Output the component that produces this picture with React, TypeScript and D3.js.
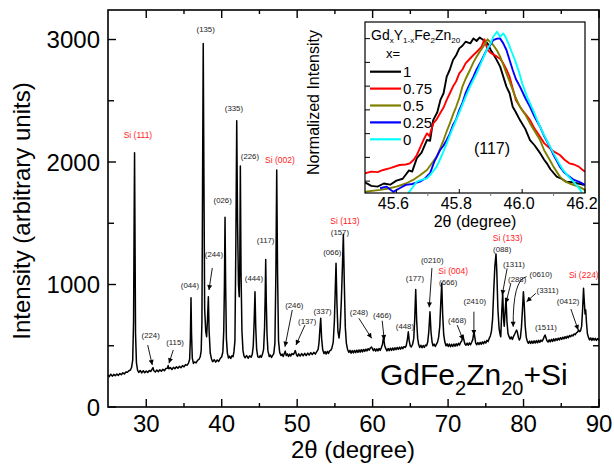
import React from 'react';
import * as d3 from 'd3';

const FONT = '"Liberation Sans", Arial, Helvetica, sans-serif';

// ---------- main XRD pattern: [2theta, intensity] ----------
const trace: [number, number][] = [
  [24.93, 262], [25.1, 248], [25.3, 268], [25.5, 252], [25.7, 266], [25.9, 255], [26.1, 270], [26.3, 258], [26.5, 274], [26.7, 263], [26.9, 279], [27.1, 270], [27.3, 286], [27.5, 284], [27.7, 296], [27.9, 302], [28.05, 322], [28.2, 380], [28.32, 700], [28.4, 1600], [28.45, 2076], [28.5, 1500], [28.58, 600], [28.7, 360], [28.85, 300], [29.0, 282], [29.2, 298], [29.4, 278], [29.6, 296], [29.8, 280], [30.0, 294], [30.2, 282], [30.4, 298], [30.6, 290], [30.8, 312], [30.9, 322], [31.0, 296], [31.2, 286], [31.4, 302], [31.6, 288], [31.8, 304], [32.0, 292], [32.2, 308], [32.4, 296], [32.6, 314], [32.8, 316], [32.9, 338], [33.0, 312], [33.2, 322], [33.4, 306], [33.6, 324], [33.8, 312], [34.0, 328], [34.2, 316], [34.4, 332], [34.6, 320], [34.8, 338], [35.0, 328], [35.2, 346], [35.4, 340], [35.6, 358], [35.75, 390], [35.85, 560], [35.93, 892], [36.0, 600], [36.1, 400], [36.25, 356], [36.4, 368], [36.6, 360], [36.8, 380], [37.0, 390], [37.15, 410], [37.28, 460], [37.38, 700], [37.46, 1800], [37.55, 2968], [37.64, 1900], [37.74, 800], [37.88, 620], [38.0, 574], [38.12, 720], [38.23, 900], [38.33, 620], [38.48, 440], [38.65, 392], [38.8, 370], [39.0, 386], [39.2, 366], [39.4, 384], [39.6, 372], [39.8, 396], [40.0, 410], [40.15, 450], [40.27, 620], [40.36, 1000], [40.44, 1549], [40.52, 1000], [40.62, 560], [40.75, 440], [40.9, 400], [41.05, 414], [41.2, 396], [41.35, 418], [41.5, 410], [41.62, 450], [41.75, 540], [41.87, 1300], [41.99, 2337], [42.1, 1500], [42.22, 1000], [42.32, 900], [42.4, 1200], [42.47, 1967], [42.56, 1100], [42.68, 620], [42.82, 460], [42.95, 418], [43.1, 402], [43.3, 420], [43.5, 398], [43.7, 418], [43.9, 406], [44.05, 430], [44.18, 500], [44.3, 700], [44.41, 941], [44.51, 650], [44.63, 470], [44.78, 412], [44.95, 404], [45.1, 420], [45.25, 406], [45.4, 430], [45.55, 470], [45.68, 650], [45.76, 900], [45.83, 1205], [45.91, 850], [46.0, 600], [46.12, 460], [46.3, 412], [46.45, 424], [46.6, 404], [46.75, 422], [46.9, 436], [47.05, 520], [47.18, 1100], [47.29, 1935], [47.4, 1100], [47.53, 540], [47.68, 446], [47.85, 420], [48.0, 432], [48.15, 412], [48.3, 436], [48.42, 456], [48.55, 420], [48.7, 434], [48.85, 412], [49.0, 432], [49.15, 416], [49.3, 436], [49.5, 428], [49.65, 446], [49.75, 460], [49.9, 428], [50.05, 414], [50.2, 434], [50.4, 416], [50.6, 436], [50.8, 418], [51.0, 438], [51.2, 420], [51.4, 440], [51.6, 424], [51.8, 444], [52.0, 428], [52.2, 446], [52.4, 432], [52.6, 452], [52.78, 470], [52.9, 530], [53.02, 640], [53.12, 724], [53.24, 560], [53.38, 470], [53.55, 436], [53.7, 452], [53.85, 432], [54.0, 454], [54.15, 438], [54.3, 458], [54.45, 462], [54.6, 480], [54.78, 530], [54.93, 700], [55.05, 960], [55.15, 1173], [55.27, 850], [55.4, 620], [55.55, 563], [55.7, 650], [55.85, 860], [56.0, 1150], [56.12, 1410], [56.25, 1000], [56.38, 650], [56.52, 520], [56.68, 470], [56.85, 446], [57.0, 462], [57.15, 440], [57.3, 460], [57.45, 442], [57.6, 462], [57.75, 444], [57.9, 464], [58.05, 446], [58.2, 466], [58.35, 448], [58.5, 468], [58.65, 450], [58.8, 470], [58.95, 454], [59.1, 472], [59.25, 458], [59.4, 476], [59.55, 464], [59.7, 482], [59.85, 490], [59.95, 478], [60.1, 460], [60.25, 476], [60.4, 456], [60.55, 474], [60.7, 458], [60.85, 478], [61.0, 462], [61.15, 484], [61.3, 510], [61.45, 573], [61.6, 500], [61.75, 476], [61.9, 458], [62.05, 478], [62.2, 460], [62.35, 480], [62.5, 462], [62.65, 482], [62.8, 464], [62.95, 484], [63.1, 468], [63.25, 486], [63.4, 470], [63.55, 488], [63.7, 472], [63.85, 490], [64.0, 476], [64.15, 492], [64.3, 486], [64.45, 500], [64.6, 550], [64.73, 614], [64.85, 540], [64.98, 500], [65.12, 490], [65.3, 512], [65.45, 560], [65.58, 720], [65.71, 960], [65.84, 700], [65.97, 560], [66.1, 510], [66.25, 486], [66.4, 504], [66.55, 484], [66.7, 502], [66.85, 486], [67.0, 506], [67.15, 500], [67.3, 530], [67.45, 620], [67.6, 778], [67.74, 610], [67.88, 530], [68.0, 500], [68.15, 514], [68.3, 494], [68.45, 512], [68.6, 530], [68.75, 570], [68.9, 660], [69.04, 860], [69.16, 1010], [69.28, 760], [69.42, 590], [69.57, 530], [69.72, 500], [69.87, 516], [70.02, 494], [70.17, 514], [70.32, 492], [70.47, 512], [70.62, 494], [70.77, 514], [70.92, 496], [71.07, 516], [71.22, 500], [71.37, 520], [71.52, 506], [71.67, 528], [71.82, 540], [71.95, 586], [72.08, 552], [72.22, 516], [72.37, 504], [72.52, 522], [72.67, 504], [72.82, 524], [72.97, 508], [73.12, 528], [73.27, 550], [73.37, 590], [73.44, 612], [73.54, 570], [73.66, 522], [73.8, 508], [73.95, 526], [74.1, 510], [74.25, 528], [74.4, 512], [74.55, 532], [74.7, 516], [74.85, 536], [75.0, 522], [75.15, 544], [75.3, 534], [75.45, 560], [75.6, 580], [75.75, 620], [75.9, 720], [76.05, 950], [76.2, 1150], [76.35, 1249], [76.46, 1100], [76.6, 800], [76.76, 640], [76.9, 590], [76.98, 574], [77.1, 760], [77.24, 931], [77.35, 720], [77.44, 660], [77.57, 790], [77.68, 887], [77.8, 700], [77.94, 600], [78.08, 574], [78.22, 556], [78.37, 572], [78.52, 552], [78.67, 576], [78.82, 594], [78.97, 614], [79.08, 628], [79.2, 606], [79.32, 568], [79.45, 547], [79.58, 566], [79.72, 650], [79.86, 800], [79.98, 941], [80.08, 850], [80.22, 660], [80.36, 570], [80.5, 536], [80.65, 520], [80.8, 538], [80.95, 518], [81.1, 538], [81.25, 520], [81.4, 540], [81.55, 522], [81.7, 542], [81.85, 524], [82.0, 544], [82.15, 528], [82.3, 546], [82.45, 536], [82.6, 552], [82.72, 572], [82.85, 588], [82.97, 566], [83.1, 540], [83.25, 530], [83.4, 548], [83.55, 532], [83.7, 552], [83.85, 536], [84.0, 556], [84.15, 540], [84.3, 558], [84.45, 544], [84.6, 562], [84.75, 548], [84.9, 566], [85.05, 552], [85.2, 570], [85.35, 556], [85.5, 574], [85.65, 560], [85.8, 578], [85.95, 566], [86.1, 584], [86.25, 574], [86.4, 588], [86.55, 580], [86.7, 596], [86.85, 590], [87.0, 606], [87.15, 612], [87.3, 628], [87.42, 616], [87.55, 622], [87.7, 660], [87.83, 800], [87.95, 969], [88.05, 860], [88.15, 760], [88.24, 792], [88.34, 690], [88.46, 600], [88.6, 568], [88.75, 548], [88.9, 564], [89.05, 544], [89.2, 562], [89.35, 546], [89.5, 560], [89.65, 544], [89.8, 558], [89.95, 548], [90.0, 552],
];

const xTicksMajor = [30, 40, 50, 60, 70, 80, 90];
const xTicksMinor = [35, 45, 55, 65, 75, 85];
const yTicksMajor = [0, 1000, 2000, 3000];
const yTicksMinor = [500, 1500, 2500];

// peak labels: text, 2theta, intensity (label anchor)
const labelText = ['Si (111)', '(135)', '(335)', '(226)', 'Si (002)', '(026)', '(117)', '(244)', '(044)', '(444)', '(224)', '(115)', '(246)', '(137)', '(337)', '(066)', '(157)', 'Si (113)', '(248)', '(466)', '(448)', '(177)', '(0210)', 'Si (004)', '(666)', '(468)', '(2410)', 'Si (133)', '(088)', '(1311)', '(288)', '(0610)', '(3311)', '(1511)', '(0412)', 'Si (224)'];
const labelTheta = [28.9, 37.87, 41.62, 43.74, 47.72, 40.13, 45.82, 38.97, 35.79, 44.27, 30.59, 33.81, 49.61, 51.33, 53.37, 54.65, 55.67, 56.33, 58.18, 61.27, 64.28, 65.6, 67.9, 70.68, 70.01, 71.21, 73.55, 77.9, 77.17, 78.72, 79.16, 82.29, 83.18, 82.96, 85.91, 87.99];
const labelInt = [2196, 3061, 2416, 2024, 1992, 1665, 1339, 1224, 971, 1029, 563, 506, 808, 678, 759, 1241, 1404, 1494, 751, 727, 637, 1029, 1176, 1086, 996, 686, 841, 1355, 1265, 1143, 1020, 1061, 931, 629, 841, 1053];

// arrows: [from 2theta, from I, to 2theta, to I]
const arrows: [number, number, number, number][] = [
  [38.75, 1135, 38.31, 955],
  [30.19, 506, 30.8, 343],
  [33.58, 465, 33.01, 357],
  [49.35, 792, 48.38, 492],
  [51.03, 669, 49.84, 506],
  [58.18, 724, 59.87, 561],
  [61.27, 704, 61.54, 547],
  [67.86, 1135, 67.5, 814],
  [71.21, 669, 72.0, 547],
  [73.42, 778, 73.42, 588],
  [77.83, 1132, 77.17, 914],
  [78.32, 1010, 77.66, 847],
  [81.63, 928, 80.4, 860],
  [86.27, 800, 87.24, 629],
];
// curved arrow for (0610): from, control, to
const curvedArrow: [number, number][] = [[80.4, 1064], [78.55, 1040], [78.63, 655]];

// ---------- inset: (117) peak, normalized intensity ----------
const insetX1: [number, number][] = [
  [45.5, 0.345], [45.52, 0.33], [45.54, 0.327], [45.56, 0.34], [45.58, 0.335], [45.6, 0.352], [45.62, 0.36], [45.64, 0.395], [45.65, 0.39], [45.665, 0.447], [45.68, 0.47], [45.697, 0.523], [45.707, 0.52], [45.717, 0.607], [45.73, 0.64], [45.74, 0.692], [45.75, 0.72], [45.76, 0.79], [45.77, 0.82], [45.78, 0.86], [45.79, 0.88], [45.8, 0.909], [45.81, 0.92], [45.82, 0.937], [45.835, 0.93], [45.845, 0.951], [45.855, 0.94], [45.865, 0.955], [45.88, 0.941], [45.89, 0.93], [45.9, 0.902], [45.915, 0.87], [45.93, 0.832], [45.94, 0.79], [45.95, 0.748], [45.96, 0.72], [45.97, 0.663], [45.98, 0.64], [45.993, 0.607], [46.01, 0.57], [46.025, 0.523], [46.04, 0.5], [46.057, 0.468], [46.07, 0.44], [46.078, 0.426], [46.09, 0.4], [46.11, 0.369], [46.125, 0.36], [46.14, 0.348], [46.16, 0.345], [46.174, 0.341], [46.19, 0.336], [46.2, 0.334],
];
const insetX075: [number, number][] = [
  [45.5, 0.383], [45.52, 0.39], [45.54, 0.388], [45.558, 0.397], [45.58, 0.405], [45.61, 0.418], [45.63, 0.42], [45.643, 0.425], [45.655, 0.44], [45.665, 0.46], [45.675, 0.49], [45.686, 0.523], [45.697, 0.551], [45.705, 0.54], [45.717, 0.593], [45.728, 0.61], [45.739, 0.636], [45.75, 0.66], [45.76, 0.692], [45.77, 0.72], [45.78, 0.748], [45.79, 0.77], [45.8, 0.804], [45.81, 0.82], [45.82, 0.846], [45.83, 0.86], [45.845, 0.881], [45.86, 0.9], [45.871, 0.916], [45.88, 0.947], [45.89, 0.902], [45.9, 0.89], [45.92, 0.874], [45.93, 0.865], [45.94, 0.846], [45.95, 0.82], [45.96, 0.79], [45.97, 0.74], [45.98, 0.692], [45.99, 0.67], [46.0, 0.649], [46.012, 0.63], [46.025, 0.607], [46.04, 0.57], [46.057, 0.537], [46.07, 0.51], [46.088, 0.488], [46.1, 0.475], [46.12, 0.46], [46.135, 0.44], [46.15, 0.425], [46.165, 0.42], [46.18, 0.411], [46.19, 0.4], [46.2, 0.39],
];
const insetX05: [number, number][] = [
  [45.5, 0.305], [45.548, 0.313], [45.57, 0.318], [45.6, 0.327], [45.63, 0.34], [45.653, 0.355], [45.675, 0.375], [45.697, 0.397], [45.71, 0.42], [45.728, 0.453], [45.74, 0.49], [45.75, 0.523], [45.76, 0.56], [45.77, 0.593], [45.78, 0.63], [45.79, 0.663], [45.8, 0.7], [45.81, 0.748], [45.82, 0.78], [45.834, 0.818], [45.845, 0.85], [45.855, 0.874], [45.865, 0.895], [45.876, 0.916], [45.89, 0.947], [45.908, 0.923], [45.92, 0.9], [45.93, 0.874], [45.94, 0.84], [45.95, 0.804], [45.96, 0.77], [45.97, 0.734], [45.98, 0.7], [45.993, 0.663], [46.01, 0.63], [46.025, 0.593], [46.04, 0.56], [46.057, 0.523], [46.07, 0.48], [46.088, 0.439], [46.1, 0.41], [46.12, 0.369], [46.135, 0.35], [46.15, 0.341], [46.165, 0.333], [46.18, 0.327], [46.2, 0.313],
];
const insetX025: [number, number][] = [
  [45.548, 0.32], [45.568, 0.327], [45.58, 0.315], [45.59, 0.305], [45.61, 0.32], [45.63, 0.334], [45.65, 0.338], [45.675, 0.348], [45.69, 0.36], [45.707, 0.383], [45.72, 0.43], [45.739, 0.481], [45.75, 0.5], [45.76, 0.523], [45.77, 0.55], [45.78, 0.586], [45.79, 0.61], [45.8, 0.649], [45.81, 0.68], [45.82, 0.72], [45.83, 0.75], [45.845, 0.79], [45.855, 0.82], [45.866, 0.846], [45.875, 0.87], [45.887, 0.902], [45.897, 0.92], [45.908, 0.944], [45.92, 0.95], [45.93, 0.951], [45.94, 0.93], [45.95, 0.902], [45.96, 0.86], [45.97, 0.818], [45.98, 0.78], [45.993, 0.748], [46.01, 0.7], [46.025, 0.663], [46.04, 0.62], [46.057, 0.579], [46.07, 0.54], [46.088, 0.495], [46.1, 0.46], [46.12, 0.411], [46.135, 0.385], [46.15, 0.369], [46.165, 0.355], [46.18, 0.348], [46.2, 0.334],
];
const insetX0: [number, number][] = [
  [45.638, 0.3], [45.665, 0.348], [45.68, 0.355], [45.697, 0.362], [45.71, 0.38], [45.728, 0.411], [45.745, 0.46], [45.76, 0.509], [45.775, 0.56], [45.79, 0.607], [45.805, 0.655], [45.82, 0.705], [45.835, 0.75], [45.855, 0.804], [45.87, 0.85], [45.887, 0.902], [45.9, 0.93], [45.908, 0.958], [45.92, 0.979], [45.93, 0.958], [45.94, 0.972], [45.948, 0.955], [45.956, 0.93], [45.965, 0.9], [45.977, 0.86], [45.99, 0.81], [46.0, 0.762], [46.017, 0.7], [46.035, 0.649], [46.05, 0.6], [46.067, 0.551], [46.085, 0.505], [46.1, 0.467], [46.115, 0.43], [46.13, 0.397], [46.147, 0.37], [46.163, 0.348], [46.175, 0.33], [46.185, 0.313], [46.19, 0.3],
];
const insetSeries = [insetX1, insetX075, insetX05, insetX025, insetX0];
const insetNames = ['1', '0.75', '0.5', '0.25', '0'];
const insetColors = ['#000000', '#ff0000', '#808000', '#0000ff', '#00ffff'];
const insetXTicks = [45.6, 45.8, 46.0, 46.2];
const insetXMinor = [45.7, 45.9, 46.1];
const insetYTicks = [0.35, 0.45, 0.55, 0.65, 0.75, 0.85, 0.95];

export default function App() {
  const x = d3.scaleLinear().domain([24.93, 90]).range([108, 599]);
  const y = d3.scaleLinear().domain([0, 3241]).range([407, 10]);
  const line = d3.line<[number, number]>().x(d => x(d[0])).y(d => y(d[1]));

  const ix = d3.scaleLinear().domain([45.5, 46.2]).range([365, 585]);
  const iy = d3.scaleLinear().domain([0.3, 1.02]).range([193, 22]);
  const iline = d3.line<[number, number]>().x(d => ix(d[0])).y(d => iy(d[1]));

  const L = 108, R = 599, T = 10, B = 407;
  const iL = 365, iR = 585, iT = 22, iB = 193;

  return (
    <svg width={614} height={466} style={{ position: 'absolute', left: 0, top: 0, background: '#fff' }} fontFamily={FONT}>
      <defs>
        <marker id="ah" viewBox="0 0 10 10" refX="10" refY="5" markerWidth="6" markerHeight="5" markerUnits="userSpaceOnUse" orient="auto">
          <path d="M0,0L10,5L0,10z" fill="#000" />
        </marker>
        <clipPath id="iclip"><rect x={iL} y={iT} width={iR - iL} height={iB - iT} /></clipPath>
      </defs>
      <rect x={0} y={0} width={614} height={466} fill="#fff" />

      {/* main trace */}
      <path d={line(trace) || ''} fill="none" stroke="#000" strokeWidth={1.5} strokeLinejoin="round" />

      {/* peak labels */}
      {labelText.map((t, i) => {
        const si = t.startsWith('Si');
        return (
          <text key={'l' + i} x={x(labelTheta[i])} y={y(labelInt[i])} textAnchor="middle" fontSize={si ? 8.5 : 7.8} fill={si ? '#ff1a1a' : '#222'}>{t}</text>
        );
      })}
      {arrows.map((a, i) => (
        <line key={'a' + i} x1={x(a[0])} y1={y(a[1])} x2={x(a[2])} y2={y(a[3])} stroke="#000" strokeWidth={0.9} markerEnd="url(#ah)" />
      ))}
      <path d={`M${x(curvedArrow[0][0])},${y(curvedArrow[0][1])}Q${x(curvedArrow[1][0])},${y(curvedArrow[1][1])} ${x(curvedArrow[2][0])},${y(curvedArrow[2][1])}`} fill="none" stroke="#000" strokeWidth={0.9} markerEnd="url(#ah)" />

      {/* frame and ticks */}
      <rect x={L} y={T} width={R - L} height={B - T} fill="none" stroke="#000" strokeWidth={1.6} />
      {xTicksMajor.map(v => (
        <g key={'xm' + v}>
          <line x1={x(v)} x2={x(v)} y1={B} y2={B - 8} stroke="#000" strokeWidth={1.4} />
          <line x1={x(v)} x2={x(v)} y1={T} y2={T + 8} stroke="#000" strokeWidth={1.4} />
          <text x={x(v)} y={432} textAnchor="middle" fontSize={24} fill="#000">{v}</text>
        </g>
      ))}
      {xTicksMinor.map(v => (
        <g key={'xn' + v}>
          <line x1={x(v)} x2={x(v)} y1={B} y2={B - 4} stroke="#000" strokeWidth={1.4} />
          <line x1={x(v)} x2={x(v)} y1={T} y2={T + 4} stroke="#000" strokeWidth={1.4} />
        </g>
      ))}
      {yTicksMajor.map(v => (
        <g key={'ym' + v}>
          <line x1={L} x2={L + 8} y1={y(v)} y2={y(v)} stroke="#000" strokeWidth={1.4} />
          <line x1={R} x2={R - 8} y1={y(v)} y2={y(v)} stroke="#000" strokeWidth={1.4} />
          <text x={100} y={y(v) + 8.5} textAnchor="end" fontSize={24} fill="#000">{v}</text>
        </g>
      ))}
      {yTicksMinor.map(v => (
        <g key={'yn' + v}>
          <line x1={L} x2={L + 6} y1={y(v)} y2={y(v)} stroke="#000" strokeWidth={1.4} />
          <line x1={R} x2={R - 6} y1={y(v)} y2={y(v)} stroke="#000" strokeWidth={1.4} />
        </g>
      ))}
      <text x={353} y={458} textAnchor="middle" fontSize={24} fill="#000">2θ (degree)</text>
      <text transform="translate(30,211) rotate(-90)" textAnchor="middle" fontSize={24} fill="#000">Intensity (arbitrary units)</text>

      <text x={380} y={385} fontSize={30} fill="#000">GdFe<tspan fontSize={20} dy={10}>2</tspan><tspan dy={-10}>Zn</tspan><tspan fontSize={20} dy={10}>20</tspan><tspan dy={-10}>+Si</tspan></text>

      {/* inset */}
      <rect x={iL} y={iT} width={iR - iL} height={iB - iT} fill="#fff" />
      <g clipPath="url(#iclip)">
        {insetSeries.map((s, i) => (
          <path key={'is' + i} d={iline(s) || ''} fill="none" stroke={insetColors[i]} strokeWidth={1.9} strokeLinejoin="round" />
        ))}
      </g>
      <rect x={iL} y={iT} width={iR - iL} height={iB - iT} fill="none" stroke="#000" strokeWidth={1.2} />
      {insetYTicks.map(v => (
        <line key={'iy' + v} x1={iL} x2={iL + 5} y1={iy(v)} y2={iy(v)} stroke="#000" strokeWidth={1} />
      ))}
      {insetXTicks.map(v => (
        <g key={'ix' + v}>
          <line x1={ix(v)} x2={ix(v)} y1={iB} y2={iB - 4} stroke="#000" strokeWidth={1} />
          <text x={ix(v) - 3} y={208.5} textAnchor="middle" fontSize={16} fill="#000">{v.toFixed(1)}</text>
        </g>
      ))}
      {insetXMinor.map(v => (
        <line key={'ixn' + v} x1={ix(v)} x2={ix(v)} y1={iB} y2={iB + 3} stroke="#777" strokeWidth={1} />
      ))}
      <text x={475} y={226.5} textAnchor="middle" fontSize={16} fill="#000">2θ (degree)</text>
      <text transform="translate(319,102.5) rotate(-90)" textAnchor="middle" fontSize={16} fill="#000">Normalized Intensity</text>
      <text x={492} y={154} textAnchor="middle" fontSize={16} fill="#000">(117)</text>

      {/* inset legend */}
      <text x={371} y={40} fontSize={14} fill="#000">Gd<tspan fontSize={8} dy={3}>x</tspan><tspan dy={-3}>Y</tspan><tspan fontSize={8} dy={3}>1-x</tspan><tspan dy={-3}>Fe</tspan><tspan fontSize={8} dy={3}>2</tspan><tspan dy={-3}>Zn</tspan><tspan fontSize={8} dy={3}>20</tspan></text>
      <text x={386} y={58} fontSize={13} fill="#000">x=</text>
      {insetNames.map((n, i) => {
        const ry = 71.7 + i * 16.9;
        return (
          <g key={'lg' + i}>
            <line x1={370} x2={401} y1={ry} y2={ry} stroke={insetColors[i]} strokeWidth={2.2} />
            <text x={403} y={ry + 5.5} fontSize={15} fill="#000">{n}</text>
          </g>
        );
      })}
    </svg>
  );
}
